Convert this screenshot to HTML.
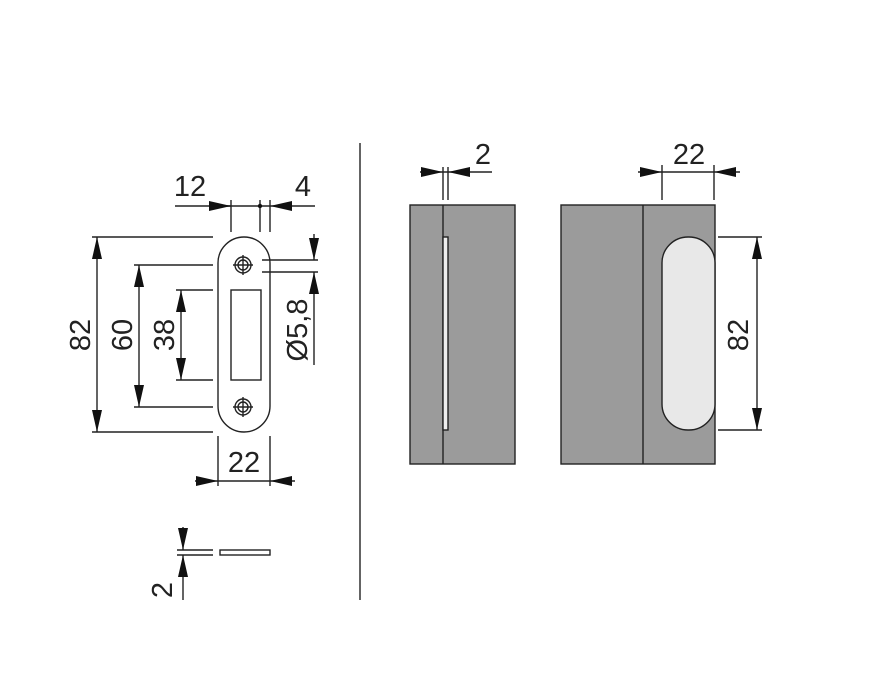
<!DOCTYPE html>
<html><head><style>body{margin:0;background:#fff}svg{display:block}text{font-family:"Liberation Sans",sans-serif;font-size:29px;fill:#222}</style></head><body>
<svg width="885" height="689" viewBox="0 0 885 689" xmlns="http://www.w3.org/2000/svg">
<defs><marker id="a" viewBox="0 0 10 10" refX="10" refY="5" markerWidth="22" markerHeight="10" markerUnits="userSpaceOnUse" orient="auto" preserveAspectRatio="none"><path d="M0,0L10,5L0,10Z" fill="#111"/></marker></defs>
<g stroke="#222" stroke-width="1.4" fill="none">
<rect x="218" y="237" width="52" height="195" rx="26"/>
<rect x="231" y="290" width="30" height="90"/>
<circle cx="243" cy="265" r="8"/><circle cx="243" cy="265" r="5"/><path d="M233,265H253M243,255V275"/>
<circle cx="243" cy="407" r="8"/><circle cx="243" cy="407" r="5"/><path d="M233,407H253M243,397V417"/>
<path d="M92,237H213M92,432H213M134,265H213M134,407H213M176,290H213M176,380H213"/>
<path d="M97,260V237" marker-end="url(#a)"/><path d="M97,410V432" marker-end="url(#a)"/><path d="M97,260V410"/>
<path d="M139,288V265" marker-end="url(#a)"/><path d="M139,384V407" marker-end="url(#a)"/><path d="M139,288V384"/>
<path d="M181,312V290" marker-end="url(#a)"/><path d="M181,358V380" marker-end="url(#a)"/><path d="M181,312V358"/>
<path d="M231,200V232M260,200V232M270,200V232"/>
<path d="M175,206H231" /><path d="M209,206H231" marker-end="url(#a)"/>
<path d="M231,206H270"/><path d="M292,206H270" marker-end="url(#a)"/><path d="M292,206H315"/>
<path d="M262,260H318M262,272H318"/>
<path d="M314,234V260" marker-end="url(#a)"/><path d="M314,298V272" marker-end="url(#a)"/><path d="M314,298V365"/>
<path d="M218,436V486M270,436V486"/>
<path d="M195,481H218" marker-end="url(#a)"/><path d="M295,481H270" marker-end="url(#a)"/><path d="M218,481H270"/>
<path d="M360,143V600"/>
<path d="M177,550H213M177,555H213"/><rect x="220" y="550" width="50" height="5"/>
<path d="M183,527V550" marker-end="url(#a)"/><path d="M183,578V555" marker-end="url(#a)"/><path d="M183,578V600"/>
</g>
<circle cx="260" cy="206" r="2.2" fill="#111"/>
<g stroke="#222" stroke-width="1.4">
<rect x="410" y="205" width="105" height="259" fill="#9b9b9b"/>
<path d="M443,205V464"/>
<rect x="443" y="237" width="5" height="193" fill="#eee"/>
<rect x="561" y="205" width="154" height="259" fill="#9b9b9b"/>
<path d="M643,205V464"/>
<rect x="662" y="237" width="53" height="193" rx="26" fill="#e8e8e8"/>
</g>
<g stroke="#222" stroke-width="1.4" fill="none">
<path d="M443,167V200M448,167V200"/>
<path d="M420,172H443" marker-end="url(#a)"/><path d="M471,172H448" marker-end="url(#a)"/><path d="M471,172H492M443,172H448"/>
<path d="M662,165V200M714,165V200"/>
<path d="M638,172H662" marker-end="url(#a)"/><path d="M740,172H714" marker-end="url(#a)"/><path d="M662,172H714"/>
<path d="M718,237H762M718,430H762"/>
<path d="M757,262V237" marker-end="url(#a)"/><path d="M757,405V430" marker-end="url(#a)"/><path d="M757,262V405"/>
</g>
<text x="190" y="196" text-anchor="middle">12</text>
<text x="303" y="196" text-anchor="middle">4</text>
<text x="244" y="472" text-anchor="middle">22</text>
<text x="483" y="164" text-anchor="middle">2</text>
<text x="689" y="164" text-anchor="middle">22</text>
<text transform="translate(90,335) rotate(-90)" text-anchor="middle">82</text>
<text transform="translate(132,335) rotate(-90)" text-anchor="middle">60</text>
<text transform="translate(174,335) rotate(-90)" text-anchor="middle">38</text>
<text transform="translate(307,330) rotate(-90)" text-anchor="middle">Ø5,8</text>
<text transform="translate(748,335) rotate(-90)" text-anchor="middle">82</text>
<text transform="translate(172,590) rotate(-90)" text-anchor="middle">2</text>
</svg>
</body></html>
